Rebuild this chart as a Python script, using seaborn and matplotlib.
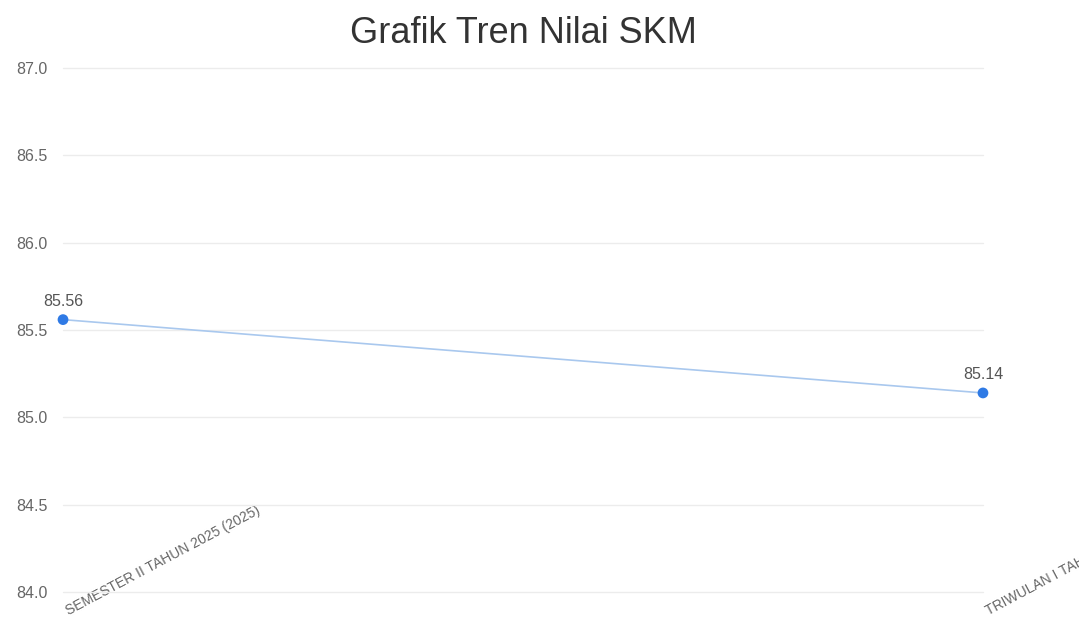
import matplotlib
matplotlib.use("Agg")
import matplotlib.pyplot as plt
import seaborn as sns
import pandas as pd

# data
periods = ["SEMESTER II TAHUN 2025 (2025)", "TRIWULAN I TAHUN 2026 (2026)"]
skm_values = [85.56, 85.14]
y_ticks = [84.0, 84.5, 85.0, 85.5, 86.0, 86.5, 87.0]

df = pd.DataFrame({"periode": periods, "nilai": skm_values})
df["pos"] = range(len(df))

sns.set_theme(style="white")
plt.rcParams["font.family"] = ["Liberation Sans", "DejaVu Sans"]

fig = plt.figure(figsize=(10.79, 6.2), dpi=100)
ax = fig.add_axes([0.0584, 0.0452, 0.8526, 0.8448])

sns.lineplot(data=df, x="pos", y="nilai", ax=ax, color="#a9c8ee", linewidth=1.2, zorder=2)
sns.scatterplot(data=df, x="pos", y="nilai", ax=ax, color="#2f7ae5", s=60,
                edgecolor="none", zorder=3, clip_on=False)

for xp, v in zip(df["pos"], df["nilai"]):
    ax.annotate(f"{v:.2f}", (xp, v), xytext=(0, 8), textcoords="offset points",
                ha="center", va="bottom", fontsize=11.5, color="#555555")

ax.set_xlim(0, len(df) - 1)
ax.set_ylim(84.0, 87.0)
ax.set_yticks(y_ticks)
ax.set_yticklabels([f"{t:.1f}" for t in y_ticks], fontsize=11.5, color="#666666")
ax.set_xticks(df["pos"])
ax.set_xticklabels(df["periode"], rotation=28, ha="left", va="top",
                   rotation_mode="anchor", fontsize=10, color="#666666")
ax.tick_params(axis="y", length=0, pad=11)
ax.tick_params(axis="x", length=0, pad=10)
ax.yaxis.grid(True, color="#ececec", linewidth=1)
ax.xaxis.grid(False)
for gl in ax.get_ygridlines():
    gl.set_clip_on(False)
for s in ax.spines.values():
    s.set_visible(False)
ax.set_xlabel("")
ax.set_ylabel("")
ax.set_title("Grafik Tren Nilai SKM", fontsize=26, color="#333333", pad=18)

fig.savefig("out.png", dpi=100)
